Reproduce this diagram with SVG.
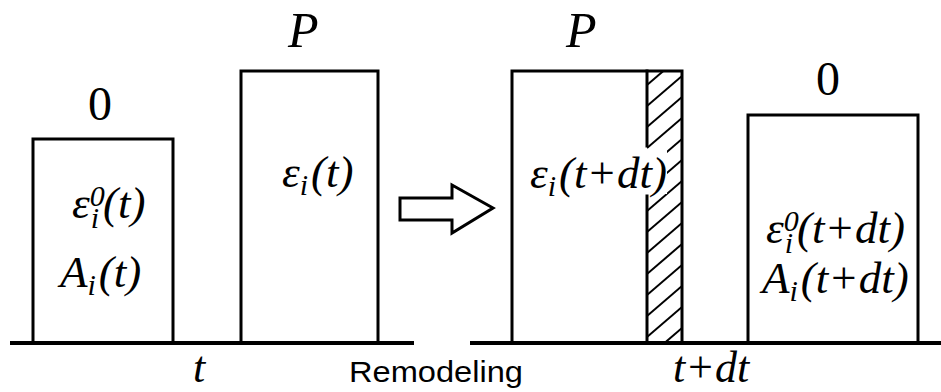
<svg xmlns="http://www.w3.org/2000/svg" width="941" height="392" viewBox="0 0 941 392">
<style>
.ln{stroke:#000;stroke-width:3;fill:none;stroke-linecap:square}
.m{font-family:"Liberation Serif","Times New Roman",serif;font-style:italic;font-size:45px;fill:#000}
.s{font-size:30px}
.lab{font-family:"Liberation Serif","Times New Roman",serif;font-size:48px;fill:#000}
.P{font-family:"Liberation Serif","Times New Roman",serif;font-style:italic;font-size:50px;fill:#000}
.sans{font-family:"Liberation Sans",Arial,sans-serif;font-size:30px;fill:#000}
.h{stroke:#000;stroke-width:2}
</style>
<defs>
<clipPath id="hc"><rect x="647" y="71" width="35" height="272"/></clipPath>
</defs>
<g id="baselines">
<line class="ln" x1="12" y1="343" x2="412" y2="343" style="stroke-width:4"/>
<line class="ln" x1="472" y1="343" x2="941" y2="343" style="stroke-width:4"/>
</g>
<g id="box-t-0">
<polyline class="ln" points="33,343 33,139 173,139 173,343"/>
<text class="lab" x="100" y="120" text-anchor="middle">0</text>
<text class="m" x="72" y="218">ε<tspan class="s" dy="-12">0</tspan><tspan class="s" dx="-14" dy="22">i</tspan><tspan dx="4" dy="-10">(t)</tspan></text>
<text class="m" x="60" y="287">A<tspan class="s" dy="8">i</tspan><tspan dx="3" dy="-8">(t)</tspan></text>
</g>
<g id="box-t-P">
<polyline class="ln" points="241,343 241,71 378,71 378,343"/>
<text class="P" x="288" y="47">P</text>
<text class="m" x="282" y="187">ε<tspan class="s" dy="8">i</tspan><tspan dx="3" dy="-8">(t)</tspan></text>
</g>
<g id="arrow">
<polygon class="ln" points="400,198 452,198 452,185 493,208 452,233 452,220 400,220" style="stroke-linejoin:miter"/>
</g>
<g id="box-tdt-P">
<g clip-path="url(#hc)">
<line class="h" x1="647" y1="85" x2="682" y2="55"/>
<line class="h" x1="647" y1="106" x2="682" y2="76"/>
<line class="h" x1="647" y1="127" x2="682" y2="97"/>
<line class="h" x1="647" y1="148" x2="682" y2="118"/>
<line class="h" x1="647" y1="169" x2="682" y2="139"/>
<line class="h" x1="647" y1="190" x2="682" y2="160"/>
<line class="h" x1="647" y1="211" x2="682" y2="181"/>
<line class="h" x1="647" y1="232" x2="682" y2="202"/>
<line class="h" x1="647" y1="253" x2="682" y2="223"/>
<line class="h" x1="647" y1="274" x2="682" y2="244"/>
<line class="h" x1="647" y1="295" x2="682" y2="265"/>
<line class="h" x1="647" y1="316" x2="682" y2="286"/>
<line class="h" x1="647" y1="337" x2="682" y2="307"/>
<line class="h" x1="647" y1="358" x2="682" y2="328"/>
<line class="h" x1="647" y1="379" x2="682" y2="349"/>
</g>
<polyline class="ln" points="512,343 512,71 682,71 682,343"/>
<line class="ln" x1="647" y1="71" x2="647" y2="146"/>
<line class="ln" x1="647" y1="196" x2="647" y2="343"/>
<rect x="645" y="149" width="22" height="45" fill="#fff"/>
<text class="P" x="566" y="47">P</text>
<text class="m" x="530" y="188">ε<tspan class="s" dy="8">i</tspan><tspan dx="3" dy="-8">(t+dt)</tspan></text>
</g>
<g id="box-tdt-0">
<polyline class="ln" points="748,343 748,115 918,115 918,343"/>
<text class="lab" x="828" y="95" text-anchor="middle">0</text>
<text class="m" x="766" y="243">ε<tspan class="s" dy="-12">0</tspan><tspan class="s" dx="-14" dy="22">i</tspan><tspan dx="4" dy="-10">(t+dt)</tspan></text>
<text class="m" x="762" y="293">A<tspan class="s" dy="8">i</tspan><tspan dx="3" dy="-8">(t+dt)</tspan></text>
</g>
<g id="labels">
<text class="m" x="199" y="382" text-anchor="middle" style="font-size:44px">t</text>
<text class="sans" x="349" y="382" textLength="174" lengthAdjust="spacingAndGlyphs">Remodeling</text>
<text class="m" x="673" y="382" style="font-size:44px">t+dt</text>
</g>
</svg>
